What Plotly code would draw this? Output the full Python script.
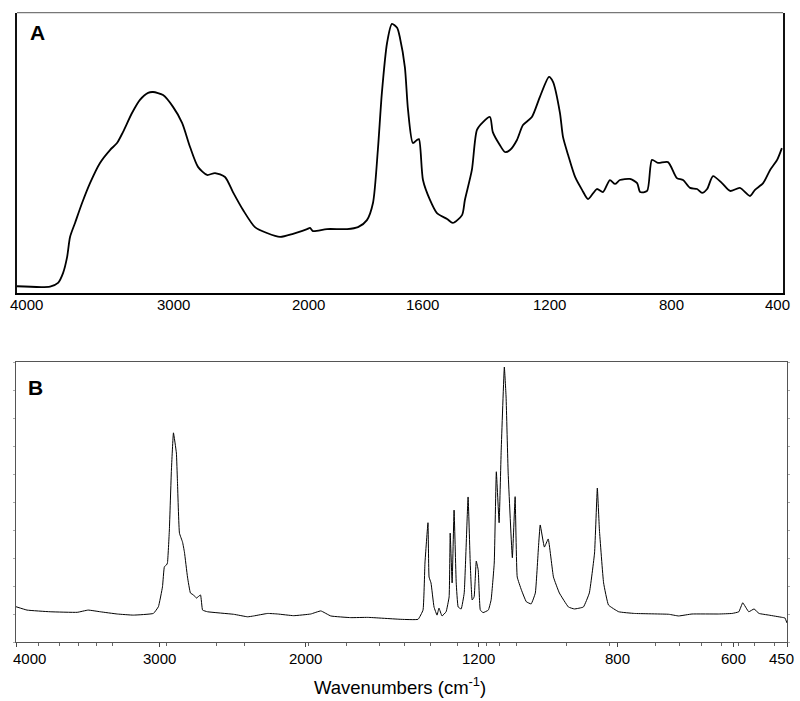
import numpy as np
import plotly.graph_objects as go

# ---------------- Panel A (IR spectrum) ----------------
a_wavenumber = [4000, 3788, 3737, 3705, 3679, 3660, 3628, 3583, 3532, 3468, 3404, 3359, 3321,
                3263, 3212, 3160, 3128, 3064, 3000, 2933, 2874, 2815, 2748, 2689, 2615, 2556,
                2481, 2393, 2304, 2207, 2111, 2007, 1993, 1983, 1934, 1864, 1826, 1795, 1774,
                1757, 1743, 1725, 1708, 1690, 1680, 1663, 1652, 1635, 1621, 1614, 1600, 1578,
                1556, 1524, 1506, 1477, 1468, 1446, 1430, 1411, 1389, 1380, 1358, 1342, 1326,
                1304, 1285, 1257, 1232, 1203, 1190, 1167, 1157, 1140, 1117, 1094, 1074, 1045,
                1025, 1002, 985, 969, 936, 912, 902, 879, 863, 843, 810, 779, 757, 732, 707,
                689, 671, 650, 618, 589, 554, 518, 500, 471, 446, 421, 404]
a_signal = [2.4, 2.3, 3.6, 7.1, 12.8, 20.0, 25.0, 32.1, 39.2, 46.4, 51.0, 53.5, 57.4,
            64.2, 68.9, 71.4, 71.7, 70.6, 66.4, 60.7, 52.1, 45.0, 42.1, 42.8, 41.4, 36.0,
            29.6, 23.5, 21.4, 20.0, 21.1, 22.8, 23.2, 22.1, 22.8, 22.8, 23.5, 26.0, 32.1,
            51.0, 71.4, 89.2, 96.0, 94.6, 91.0, 80.6, 65.3, 53.5, 54.6, 54.9, 40.3, 33.2,
            28.5, 26.4, 25.0, 27.8, 33.2, 43.9, 58.2, 61.0, 62.8, 57.4, 52.8, 50.3, 51.0,
            54.6, 59.9, 62.8, 69.9, 77.1, 75.3, 64.2, 55.7, 49.2, 41.4, 36.8, 33.5, 37.1,
            36.0, 40.3, 38.9, 40.3, 40.7, 39.2, 36.0, 36.4, 47.5, 46.4, 46.7, 41.0, 40.3, 37.5, 37.1,
            35.7, 37.1, 41.7, 39.2, 36.4, 37.5, 34.6, 36.8, 39.2, 43.9, 47.5, 51.7]
a_tick_labels = [4000, 3000, 2000, 1600, 1200, 800, 400]
a_tick_scale = [0.0, 0.2037, 0.3799, 0.5300, 0.6958, 0.8538, 1.0]   # axis scale (non-linear)

# ---------------- Panel B (Raman-like spectrum) ----------------
b_wavenumber = [4000, 3923, 3762, 3573, 3497, 3413, 3294, 3182, 3042, 3007, 2979, 2966, 2952,
                2945, 2932, 2918, 2904, 2884, 2877, 2863, 2842, 2829, 2808, 2788, 2767, 2747,
                2719, 2705, 2671, 2493, 2397, 2356, 2260, 2192, 2082, 1977, 1930, 1884, 1791,
                1712, 1558, 1479, 1456, 1447, 1433, 1428, 1419, 1405, 1391, 1382, 1368, 1349,
                1335, 1330, 1321, 1312, 1302, 1293, 1279, 1265, 1247, 1237, 1228, 1219, 1209,
                1200, 1194, 1186, 1171, 1163, 1154, 1148, 1140, 1134, 1125, 1120, 1114, 1102,
                1094, 1088, 1076, 1062, 1048, 1036, 1027, 1022, 1010, 999, 984, 967, 941, 924,
                898, 881, 866, 858, 852, 840, 826, 798, 771, 712, 695, 672, 626, 603, 586, 575,
                558, 543, 529, 501, 464, 456, 450]
b_signal = [12.6, 11.4, 10.8, 10.6, 11.4, 10.8, 10.0, 9.6, 10.2, 12.6, 19.7, 26.9, 27.5,
            28.2, 40.0, 61.4, 74.7, 67.5, 57.8, 38.9, 35.7, 32.1, 23.2, 17.5, 16.8, 15.7,
            16.8, 11.4, 10.8, 9.9, 9.0, 9.3, 10.2, 10.0, 9.4, 10.0, 11.1, 9.3, 8.7,
            8.8, 8.1, 8.1, 11.4, 28.2, 42.6, 23.2, 21.1, 12.5, 9.6, 12.1, 9.3, 10.8,
            16.1, 38.9, 21.1, 47.1, 21.1, 12.5, 11.8, 17.5, 51.8, 28.2, 15.0, 16.1, 28.9,
            25.7, 11.4, 10.5, 11.4, 15.0, 28.2, 60.8, 42.6, 68.5, 98.2, 87.5, 60.3, 30.1,
            51.9, 23.2, 18.6, 14.4, 13.6, 17.5, 33.9, 41.8, 33.9, 36.8, 23.2, 17.5, 12.5, 11.8,
            12.5, 17.5, 31.8, 55.0, 40.0, 21.1, 13.2, 10.8, 10.2, 9.9, 9.3, 10.0, 10.0, 10.2, 10.8, 14.0,
            10.8, 11.8, 10.2, 9.6, 8.8, 8.6, 6.8]
b_tick_labels = [4000, 3000, 2000, 1200, 800, 600, 450]
b_tick_scale = [0.0, 0.1860, 0.3758, 0.5995, 0.7802, 0.9311, 1.0]   # axis scale (non-linear)
b_minor_ticks = [3846, 3699, 3566, 3441, 3329, 2952, 2610, 2418, 1986, 1809, 1660, 1544,
                 1423, 1298, 1176, 1139, 1090, 946, 823, 735, 693, 655, 621, 586, 541, 484]


def to_scale(wn, tick_vals, tick_scale):
    wn = np.asarray(wn, dtype=float)
    return np.interp(-wn, -np.asarray(tick_vals, float), np.asarray(tick_scale, float))


W, H = 800, 701


def px(x):
    return x / W


def py(y):
    return 1 - y / H


FONT = "Liberation Sans, Arial, sans-serif"
fig = go.Figure()
fig.add_trace(go.Scatter(x=to_scale(a_wavenumber, a_tick_labels, a_tick_scale), y=a_signal,
                         mode="lines", line=dict(color="black", width=1.8, shape="spline", smoothing=0.7),
                         xaxis="x", yaxis="y", showlegend=False, hoverinfo="skip"))
fig.add_trace(go.Scatter(x=to_scale(b_wavenumber, b_tick_labels, b_tick_scale), y=b_signal,
                         mode="lines", line=dict(color="black", width=1, shape="spline", smoothing=0.3),
                         xaxis="x2", yaxis="y2", showlegend=False, hoverinfo="skip"))

tick_font = dict(family=FONT, size=15, color="black")

# tick labels drawn as text at each tick (edge labels nudged inward like the original)
annotations = []
a_pos = to_scale(a_tick_labels, a_tick_labels, a_tick_scale)
for i, (t, xv) in enumerate(zip(a_tick_labels, a_pos)):
    shift = 9 if i == 0 else (-6 if i == len(a_tick_labels) - 1 else 0)
    annotations.append(dict(text=str(t), x=xv, xref="x", y=py(304), yref="paper",
                            xshift=shift, showarrow=False, xanchor="center", yanchor="middle",
                            font=tick_font))
b_pos = to_scale(b_tick_labels, b_tick_labels, b_tick_scale)
for i, (t, xv) in enumerate(zip(b_tick_labels, b_pos)):
    shift = 13 if i == 0 else (-6 if i == len(b_tick_labels) - 1 else 0)
    annotations.append(dict(text=str(t), x=xv, xref="x2", y=py(658), yref="paper",
                            xshift=shift, showarrow=False, xanchor="center", yanchor="middle",
                            font=tick_font))
annotations += [
    dict(text="<b>A</b>", x=px(37), y=py(33), xref="paper", yref="paper",
         showarrow=False, xanchor="center", yanchor="middle",
         font=dict(family=FONT, size=21, color="black")),
    dict(text="<b>B</b>", x=px(35), y=py(387), xref="paper", yref="paper",
         showarrow=False, xanchor="center", yanchor="middle",
         font=dict(family=FONT, size=21, color="black")),
    dict(text="Wavenumbers (cm<sup>-1</sup>)", x=px(400), y=py(686), xref="paper",
         yref="paper", showarrow=False, xanchor="center", yanchor="middle",
         font=dict(family=FONT, size=18.5, color="black")),
]

fig.update_layout(
    template="none",
    width=W, height=H, margin=dict(l=0, r=0, t=0, b=0, autoexpand=False),
    paper_bgcolor="white", plot_bgcolor="white",
    xaxis=dict(domain=[px(17), px(783)], anchor="y", range=[0, 1], automargin=False,
               showticklabels=False, ticks="",
               showgrid=False, zeroline=False, showline=True, linecolor="black", linewidth=2),
    yaxis=dict(domain=[py(293), py(12.7)], anchor="x", range=[0, 100], automargin=False,
               showticklabels=False, ticks="", showgrid=False, zeroline=False,
               showline=True, linecolor="#111", linewidth=1.6, mirror=True),
    xaxis2=dict(domain=[px(16), px(787)], anchor="y2", range=[0, 1], automargin=False,
                tickmode="array", tickvals=list(b_pos), showticklabels=False,
                ticks="outside", ticklen=4, tickcolor="#444", tickwidth=1,
                minor=dict(tickvals=list(to_scale(b_minor_ticks, b_tick_labels, b_tick_scale)),
                           ticks="outside", ticklen=3, tickcolor="#666", tickwidth=1),
                showgrid=False, zeroline=False, showline=True, linecolor="#555",
                linewidth=1.2, mirror=True),
    yaxis2=dict(domain=[py(642), py(362)], anchor="x2", range=[0, 100], automargin=False,
                showticklabels=False, ticks="outside", ticklen=2, tickcolor="#aaa",
                tickmode="linear", tick0=0, dtick=10,
                showgrid=False, zeroline=False, showline=True, linecolor="#555",
                linewidth=1.2, mirror="ticks"),
    shapes=[dict(type="line", xref="x domain", yref="y domain", x0=0, x1=1, y0=1, y1=1,
                 line=dict(color="#777", width=1.2))],
    annotations=annotations,
)

fig.write_html("out.html", config={"displayModeBar": False, "staticPlot": True},
               post_script="document.body.style.margin='0px';")
